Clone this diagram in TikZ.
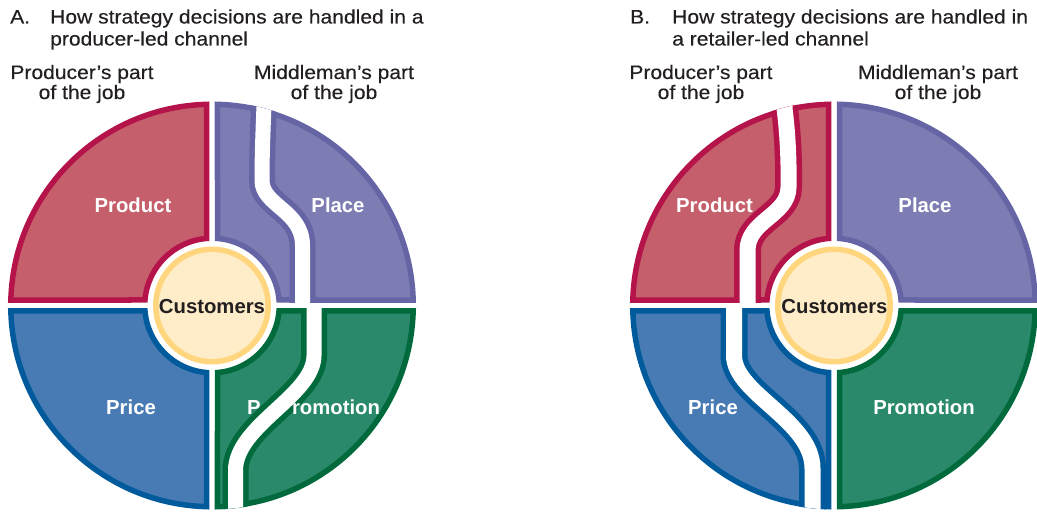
\documentclass[tikz,border=0pt]{standalone}
\usepackage{fontspec}
\setmainfont{Liberation Sans}
\newfontfamily\capfont[FakeStretch=1.08, FakeBold=0.3]{Liberation Sans}
\definecolor{prodfill}{HTML}{C55F6B}
\definecolor{prodline}{HTML}{B4144A}
\definecolor{placefill}{HTML}{7D7DB3}
\definecolor{placeline}{HTML}{6565A6}
\definecolor{pricefill}{HTML}{487BB3}
\definecolor{priceline}{HTML}{005A9C}
\definecolor{promofill}{HTML}{2A896B}
\definecolor{promoline}{HTML}{006A3C}
\definecolor{custfill}{HTML}{FFEDC9}
\definecolor{custline}{HTML}{FFD67D}
\definecolor{inkgrey}{HTML}{231F20}
% quarter ring: #1 start angle, #2 outer radius, #3 inner radius, #4 offset from the axes
\newcommand{\sectorpath}[4]{({#1+asin(#4/#2)}:#2pt)
  arc[start angle={#1+asin(#4/#2)}, end angle={#1+90-asin(#4/#2)}, radius=#2pt]
  -- ({#1+90-asin(#4/#3)}:#3pt)
  arc[start angle={#1+90-asin(#4/#3)}, end angle={#1+asin(#4/#3)}, radius=#3pt] -- cycle}
\newcommand{\ringpath}[1]{\sectorpath{#1}{201.25}{67.25}{5.5}}
\newcommand{\clippath}[1]{\sectorpath{#1}{204}{64.5}{2.75}}
\newcommand{\lblfont}{\fontsize{20.3}{24}\selectfont\bfseries}
\newcommand{\headfont}{\capfont\fontsize{19.5}{22}\selectfont}
\tikzset{
  sector/.style={line width=5.5pt, line join=miter},
  prodq/.style={sector, fill=prodfill, draw=prodline},
  placeq/.style={sector, fill=placefill, draw=placeline},
  priceq/.style={sector, fill=pricefill, draw=priceline},
  promoq/.style={sector, fill=promofill, draw=promoline},
  custq/.style={line width=5.5pt, fill=custfill, draw=custline},
  split/.style={line width=5.5pt, double=white, double distance=15pt},
  lbl/.style={font=\lblfont, text=white, anchor=base, inner sep=0pt},
  custlbl/.style={lbl, text=inkgrey},
  head/.style={font=\headfont, text=inkgrey, anchor=base west, inner sep=0pt},
  part/.style={head, anchor=base},
}

\begin{document}
\begin{tikzpicture}[x=1pt, y=1pt]
  \useasboundingbox (0,0) rectangle (1037,512);

  % A: producer-led
  \begin{scope}[shift={(212,206.5)}]
    \filldraw[placeq] \ringpath{0};
    \filldraw[prodq] \ringpath{90};
    \filldraw[priceq] \ringpath{180};
    \filldraw[promoq] \ringpath{270};
    \begin{scope}
      \clip \clippath{0};
      \draw[split, draw=placeline] (52.5,215) -- (52,200)
        .. controls (51,175) and (50,150) .. (50,125)
        .. controls (50,100) and (90.5,95) .. (90.5,60) -- (90.5,-5);
    \end{scope}
    \begin{scope}
      \clip \clippath{270};
      \draw[split, draw=promoline] (102,5) -- (102,-50)
        .. controls (102,-90) and (23.5,-120) .. (23.5,-165) -- (23.5,-215);
    \end{scope}
    \filldraw[custq] (0,0) circle[radius=56.25pt];
  \end{scope}

  % B: retailer-led (mirrored, so sector 0 is top left)
  \begin{scope}[shift={(834,206.5)}, xscale=-1]
    \filldraw[prodq] \ringpath{0};
    \filldraw[placeq] \ringpath{90};
    \filldraw[promoq] \ringpath{180};
    \filldraw[priceq] \ringpath{270};
    \begin{scope}
      \clip \clippath{0};
      \draw[split, double distance=16pt, draw=prodline] (49.5,215) -- (49.5,197)
        .. controls (46,170) and (45,140) .. (45.5,118)
        .. controls (46,90) and (86.5,85) .. (86.5,55) -- (86.5,-5);
    \end{scope}
    \begin{scope}
      \clip \clippath{270};
      \draw[split, double distance=16pt, draw=priceline] (100,5) -- (100,-50)
        .. controls (100,-88) and (21.5,-115) .. (21.5,-163) -- (21.5,-215);
    \end{scope}
    \filldraw[custq] (0,0) circle[radius=56.25pt];
  \end{scope}

  % headings
  \node[head] (tagA) at (10,488.5) {A.};
  \node[head] (headA1) at (50,488.5) {How strategy decisions are handled in a};
  \node[head] (headA2) at (50,466.5) {producer-led channel};
  \node[head] (tagB) at (630,488.5) {B.};
  \node[head] (headB1) at (672,488.5) {How strategy decisions are handled in};
  \node[head] (headB2) at (672,466.5) {a retailer-led channel};

  \node[part] (prodjobA) at (82,433) {Producer’s part};
  \node[part] (prodjobA2) at (82,413) {of the job};
  \node[part] (midjobA) at (334,433) {Middleman’s part};
  \node[part] (midjobA2) at (334,413) {of the job};
  \node[part] (prodjobB) at (701,433) {Producer’s part};
  \node[part] (prodjobB2) at (701,413) {of the job};
  \node[part] (midjobB) at (938,433) {Middleman’s part};
  \node[part] (midjobB2) at (938,413) {of the job};

  % labels
  \node[lbl] (prodA) at (133,299) {Product};
  \node[lbl] (placeA) at (338,299) {Place};
  \node[lbl] (priceA) at (131,97) {Price};
  \node[lbl] (promoAp) at (254,97) {P};
  \node[lbl] (promoAr) at (336,97) {romotion};
  \node[custlbl] (custA) at (212,198) {Customers};

  \node[lbl] (prodB) at (714.5,299) {Product};
  \node[lbl] (placeB) at (925,299) {Place};
  \node[lbl] (priceB) at (713,97) {Price};
  \node[lbl] (promoB) at (924,97) {Promotion};
  \node[custlbl] (custB) at (834.5,198) {Customers};
\end{tikzpicture}
\end{document}
